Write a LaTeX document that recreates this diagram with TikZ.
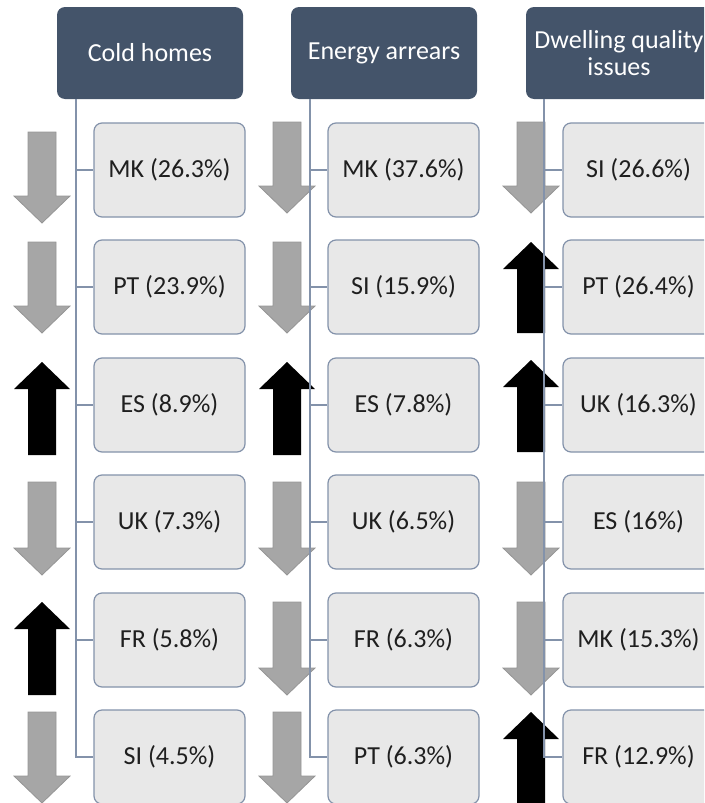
\documentclass[tikz,border=0pt]{standalone}
\usepackage{fontspec}
\setmainfont{Carlito}
\definecolor{headblue}{HTML}{44546A}
\definecolor{cellfill}{HTML}{E8E8E8}
\definecolor{cellline}{HTML}{8392AA}
\definecolor{downgray}{HTML}{A6A6A6}
\definecolor{downedge}{HTML}{959595}
% trend arrows: x centre, top y, bottom y (picture units, y grows downwards)
\newcommand{\trenddown}[3]{\path[downarr] (#1-14,#2) -- (#1+14,#2) -- (#1+14,#3-27) -- (#1+28,#3-27) -- (#1,#3) -- (#1-28,#3-27) -- (#1-14,#3-27) -- cycle;}
\newcommand{\trendup}[3]{\path[uparr] (#1-14,#3) -- (#1+14,#3) -- (#1+14,#2+27) -- (#1+28,#2+27) -- (#1,#2) -- (#1-28,#2+27) -- (#1-14,#2+27) -- cycle;}
\begin{document}
\begin{tikzpicture}[x=1pt,y=-1pt,every node/.style={font=\fontsize{26}{27}\selectfont},
  head/.style={fill=headblue,text=white,rounded corners=8pt,align=center,minimum width=186pt,minimum height=92pt,inner sep=2pt},
  cell/.style={draw=cellline,line width=1.2pt,fill=cellfill,text=black!88,rounded corners=8pt,minimum width=151pt,minimum height=94pt,inner sep=2pt},
  conn/.style={draw=cellline,line width=1.5pt},
  downarr/.style={fill=downgray,draw=downedge,line width=0.8pt},
  uparr/.style={fill=black}]
\useasboundingbox (0,0) rectangle (704,803);
\clip (0,0) rectangle (704,803);
% column headers
\node[head] (cold) at (150,53) {Cold homes};
\node[head] (arrears) at (384,53) {Energy arrears};
\node[head] (quality) at (619,53) {Dwelling quality\\issues};
% country boxes
\node[cell] (cold1) at (169.5,170) {MK (26.3\%)};
\node[cell] (cold2) at (169.5,287) {PT (23.9\%)};
\node[cell] (cold3) at (169.5,405) {ES (8.9\%)};
\node[cell] (cold4) at (169.5,522) {UK (7.3\%)};
\node[cell] (cold5) at (169.5,640) {FR (5.8\%)};
\node[cell] (cold6) at (169.5,757) {SI (4.5\%)};
\node[cell] (arr1) at (403.5,170) {MK (37.6\%)};
\node[cell] (arr2) at (403.5,287) {SI (15.9\%)};
\node[cell] (arr3) at (403.5,405) {ES (7.8\%)};
\node[cell] (arr4) at (403.5,522) {UK (6.5\%)};
\node[cell] (arr5) at (403.5,640) {FR (6.3\%)};
\node[cell] (arr6) at (403.5,757) {PT (6.3\%)};
\node[cell] (qual1) at (638.5,170) {SI (26.6\%)};
\node[cell] (qual2) at (638.5,287) {PT (26.4\%)};
\node[cell] (qual3) at (638.5,405) {UK (16.3\%)};
\node[cell] (qual4) at (638.5,522) {ES (16\%)};
\node[cell] (qual5) at (638.5,640) {MK (15.3\%)};
\node[cell] (qual6) at (638.5,757) {FR (12.9\%)};
% trend arrows
\trenddown{42}{132}{223} \trenddown{42}{242}{333} \trendup{42}{362}{455}
\trenddown{42}{482}{575} \trendup{42}{602}{695} \trenddown{42}{712}{803}
\trenddown{287}{122}{213} \trenddown{287}{242}{333} \trendup{287}{362}{455}
\trenddown{287}{482}{575} \trenddown{287}{602}{695} \trenddown{287}{712}{803}
\trenddown{531}{122}{213} \trendup{531}{242}{333} \trendup{531}{360}{452}
\trenddown{531}{482}{575} \trenddown{531}{602}{695} \trendup{531}{712}{810}
% trunks and branches
\coordinate (coldtrunk) at (76,99);
\coordinate (arrtrunk) at (310,99);
\coordinate (qualtrunk) at (544,99);
\draw[conn] (coldtrunk) |- (cold6.west) (coldtrunk |- cold1.west) -- (cold1.west)
  (coldtrunk |- cold2.west) -- (cold2.west) (coldtrunk |- cold3.west) -- (cold3.west)
  (coldtrunk |- cold4.west) -- (cold4.west) (coldtrunk |- cold5.west) -- (cold5.west);
\draw[conn] (arrtrunk) |- (arr6.west) (arrtrunk |- arr1.west) -- (arr1.west)
  (arrtrunk |- arr2.west) -- (arr2.west) (arrtrunk |- arr3.west) -- (arr3.west)
  (arrtrunk |- arr4.west) -- (arr4.west) (arrtrunk |- arr5.west) -- (arr5.west);
\draw[conn] (qualtrunk) |- (qual6.west) (qualtrunk |- qual1.west) -- (qual1.west)
  (qualtrunk |- qual2.west) -- (qual2.west) (qualtrunk |- qual3.west) -- (qual3.west)
  (qualtrunk |- qual4.west) -- (qual4.west) (qualtrunk |- qual5.west) -- (qual5.west);
\end{tikzpicture}
\end{document}
